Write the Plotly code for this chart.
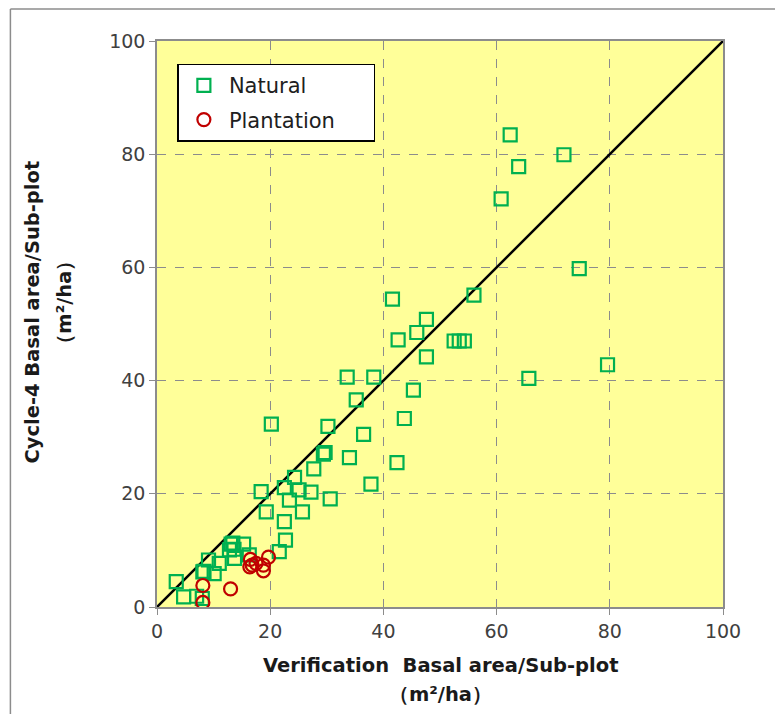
import plotly.graph_objects as go

natural_x = [62.4, 71.9, 63.9, 60.8, 74.6, 56.0, 41.6, 47.6, 45.9, 42.6, 52.5, 53.4, 54.3,
             47.6, 65.7, 79.6, 33.6, 38.3, 45.3, 35.2, 43.7, 20.2, 30.2, 36.5, 34.0,
             29.4, 29.7, 42.4, 37.8, 27.7, 24.3, 22.5, 18.4, 25.1, 27.2, 30.6, 23.4,
             25.7, 19.3, 22.5, 22.7, 21.6, 13.1, 13.4, 15.3, 12.8, 13.6, 13.7, 16.3,
             9.1, 11.0, 8.1, 8.3, 10.1, 3.4, 4.7, 7.0, 8.0]
natural_y = [83.4, 79.9, 77.8, 72.1, 59.8, 55.1, 54.4, 50.8, 48.5, 47.2, 47.0, 47.0, 47.0,
             44.2, 40.4, 42.8, 40.6, 40.6, 38.3, 36.6, 33.3, 32.3, 31.9, 30.5, 26.4,
             27.0, 27.3, 25.5, 21.7, 24.4, 22.9, 21.1, 20.4, 20.7, 20.3, 19.1, 18.9,
             16.8, 16.8, 15.1, 11.8, 9.8, 11.1, 11.3, 11.1, 10.1, 10.2, 8.6, 9.2,
             8.3, 7.7, 6.2, 6.3, 5.9, 4.5, 1.8, 1.9, 1.5]

plant_x = [8.1, 8.1, 13.0, 16.5, 16.8, 16.4, 18.8, 18.8, 19.7, 17.5]
plant_y = [3.8, 0.8, 3.2, 8.4, 7.4, 7.1, 7.4, 6.4, 8.8, 7.7]

line_x = [0, 100]
line_y = [0, 100]

ticks = [0, 20, 40, 60, 80, 100]

NB = "\u00a0"

fig = go.Figure()
fig.add_trace(go.Scatter(x=line_x, y=line_y, mode="lines",
                         line=dict(color="black", width=2.5), showlegend=False,
                         hoverinfo="skip"))
fig.add_trace(go.Scatter(x=natural_x, y=natural_y, mode="markers", name="Natural",
                         legendgroup="n",
                         marker=dict(symbol="square-open", size=13, color="#00B050",
                                     line=dict(width=2.2))))
fig.add_trace(go.Scatter(x=plant_x, y=plant_y, mode="markers", name="Plantation" + NB * 5,
                         legendgroup="p",
                         marker=dict(symbol="circle-open", size=13, color="#C00000",
                                     line=dict(width=2.2))))

axis_common = dict(range=[0, 100], tickvals=ticks, showline=True, linecolor="#8c8c8c",
                   linewidth=1.5, mirror=True, ticks="outside", ticklen=6,
                   tickcolor="#8c8c8c", showgrid=True, gridcolor="#8c8c8c",
                   griddash="dash", gridwidth=1, zeroline=False,
                   tickfont=dict(family="DejaVu Sans", size=19, color="#404040"))

fig.update_xaxes(**axis_common)
fig.update_yaxes(**axis_common)

title_font = dict(family="DejaVu Sans", size=19.5, color="#1a1a1a")

fig.update_layout(
    width=783, height=714,
    margin=dict(l=148.5, r=68, t=33, b=115),
    plot_bgcolor="#FFFF99", paper_bgcolor="white",
    font=dict(family="DejaVu Sans", color="#202020"),
    legend=dict(x=0.036, y=0.96, xanchor="left", yanchor="top",
                bgcolor="white", bordercolor="black", borderwidth=1.5,
                font=dict(family="DejaVu Sans", size=21, color="#202020"),
                itemwidth=40, tracegroupgap=4),
    annotations=[
        dict(text="<b>Verification  Basal area/Sub-plot</b>", xref="paper", yref="paper",
             x=0.5, y=-0.1025, xanchor="center", yanchor="middle", showarrow=False,
             font=title_font),
        dict(text="<b>（m²/ha）</b>", xref="paper", yref="paper",
             x=0.5, y=-0.155, xanchor="center", yanchor="middle", showarrow=False,
             font=title_font),
        dict(text="<b>Cycle-4 Basal area/Sub-plot</b>", xref="paper", yref="paper",
             x=-0.22, y=0.521, xanchor="center", yanchor="middle", showarrow=False,
             textangle=-90, font=title_font),
        dict(text="<b>（m²/ha）</b>", xref="paper", yref="paper",
             x=-0.163, y=0.539, xanchor="center", yanchor="middle", showarrow=False,
             textangle=-90, font=title_font),
    ],
    shapes=[
        dict(type="line", xref="paper", yref="paper", x0=-0.259, x1=-0.259,
             y0=-0.25, y1=1.0565, line=dict(color="#8c8c8c", width=1.5)),
        dict(type="line", xref="paper", yref="paper", x0=-0.259, x1=1.2,
             y0=1.0565, y1=1.0565, line=dict(color="#8c8c8c", width=1.5)),
    ],
)

fig.write_html("out.html")
